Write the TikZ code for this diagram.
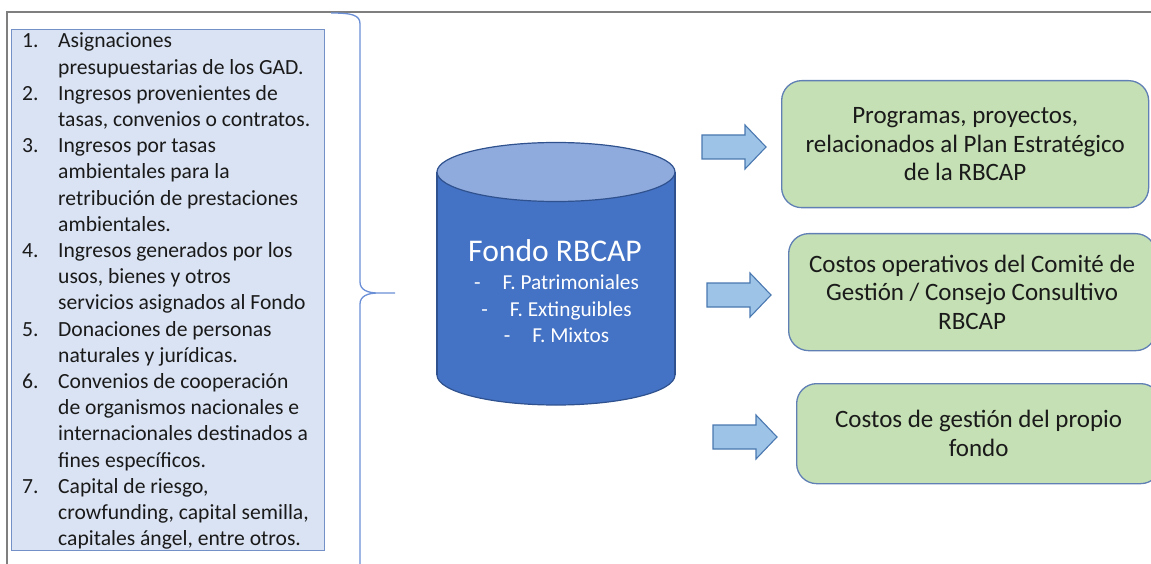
\documentclass[tikz,border=0pt]{standalone}
\usepackage{fontspec}
\setmainfont{Carlito}
\definecolor{framegray}{HTML}{7F7F7F}
\definecolor{listfill}{HTML}{DAE3F3}
\definecolor{listline}{HTML}{7391C6}
\definecolor{bracecol}{HTML}{6A8FD6}
\definecolor{cylbody}{HTML}{4472C4}
\definecolor{cyltop}{HTML}{8FAADC}
\definecolor{cylline}{HTML}{2F528F}
\definecolor{arrowfill}{HTML}{9DC3E6}
\definecolor{arrowline}{HTML}{4A78B0}
\definecolor{greenfill}{HTML}{C5E0B4}
\definecolor{greenline}{HTML}{5F7FB5}
\definecolor{txt}{HTML}{1A1A1A}
\tikzset{
  listbox/.style={draw=listline, fill=listfill, line width=1.3pt, inner sep=0pt, anchor=north west},
  greenbox/.style={draw=greenline, fill=greenfill, line width=1.3pt, rounded corners=20pt,
    anchor=north west, align=center, text=txt, inner sep=0pt,
    font=\fontsize{25}{28.5}\selectfont},
  cyltext/.style={text=white, inner sep=0pt, anchor=base},
  arrowshape/.style={draw=arrowline, fill=arrowfill, line width=1.1pt, line join=miter},
  flecha/.pic={
    \draw[arrowshape] (0,-12) -- (43,-12) -- (43,-22) -- (64,0) -- (43,22) -- (43,12) -- (0,12) -- cycle;
  }
}
\begin{document}
\begin{tikzpicture}[x=1pt,y=-1pt]
\useasboundingbox (0,0) rectangle (1151,564);
\clip (0,0) rectangle (1151,564);

% outer frame
\draw[framegray, line width=1.6pt] (7,570) -- (7,12) -- (1160,12);

% list of funding sources
\node[listbox, minimum width=313, minimum height=521] (fuentes) at (11,29) {};
\node[anchor=base west, inner sep=0pt, text=txt, font=\fontsize{21.6}{26.2}\selectfont] (lista) at (22,48) {%
\begin{tabular}[t]{@{}p{36pt}@{}l@{}}
1. & Asignaciones\\
   & presupuestarias de los GAD.\\
2. & Ingresos provenientes de\\
   & tasas, convenios o contratos.\\
3. & Ingresos por tasas\\
   & ambientales para la\\
   & retribución de prestaciones\\
   & ambientales.\\
4. & Ingresos generados por los\\
   & usos, bienes y otros\\
   & servicios asignados al Fondo\\
5. & Donaciones de personas\\
   & naturales y jurídicas.\\
6. & Convenios de cooperación\\
   & de organismos nacionales e\\
   & internacionales destinados a\\
   & fines específicos.\\
7. & Capital de riesgo,\\
   & crowfunding, capital semilla,\\
   & capitales ángel, entre otros.
\end{tabular}};

% right brace
\draw[bracecol, line width=1.3pt] (331,13) .. controls (352,13) and (360,15) .. (360,24)
  -- (360,282) .. controls (360,290) and (368,293) .. (378,293) -- (395,293)
  -- (378,293) .. controls (368,293) and (360,296) .. (360,304) -- (360,570);

% fund cylinder
\fill[cylbody] (437,172) rectangle (675,375);
\draw[cylline, fill=cylbody, line width=1.2pt] (556,375) ellipse [x radius=119, y radius=30];
\fill[cylbody] (437.7,172) rectangle (674.3,375);
\draw[cylline, line width=1.2pt] (437,172) -- (437,375) (675,172) -- (675,375);
\draw[cylline, fill=cyltop, line width=1.2pt] (556,172) ellipse [x radius=119, y radius=29.5];
\node[cyltext, font=\fontsize{31.6}{36}\selectfont] (fondo) at (555,261) {Fondo RBCAP};
\node[cyltext, font=\fontsize{21.3}{24}\selectfont] (fpat) at (556.5,289) {-\hspace{22pt}F. Patrimoniales};
\node[cyltext, font=\fontsize{21.3}{24}\selectfont] (fext) at (556.5,316) {-\hspace{22pt}F. Extinguibles};
\node[cyltext, font=\fontsize{21.3}{24}\selectfont] (fmix) at (556.5,342) {-\hspace{22pt}F. Mixtos};

% block arrows
\pic at (702,147) {flecha};
\pic at (707,295) {flecha};
\pic at (713,437) {flecha};

% destinations of the fund
\node[greenbox, minimum width=367, minimum height=127] (prog) at (781,80)
  {Programas, proyectos,\\relacionados al Plan Estratégico\\de la RBCAP};
\node[greenbox, minimum width=367, minimum height=117] (costop) at (788,233)
  {Costos operativos del Comité de\\Gestión / Consejo Consultivo\\RBCAP};
\node[greenbox, minimum width=364, minimum height=100] (costg) at (796,383)
  {Costos de gestión del propio\\fondo};
\end{tikzpicture}
\end{document}
